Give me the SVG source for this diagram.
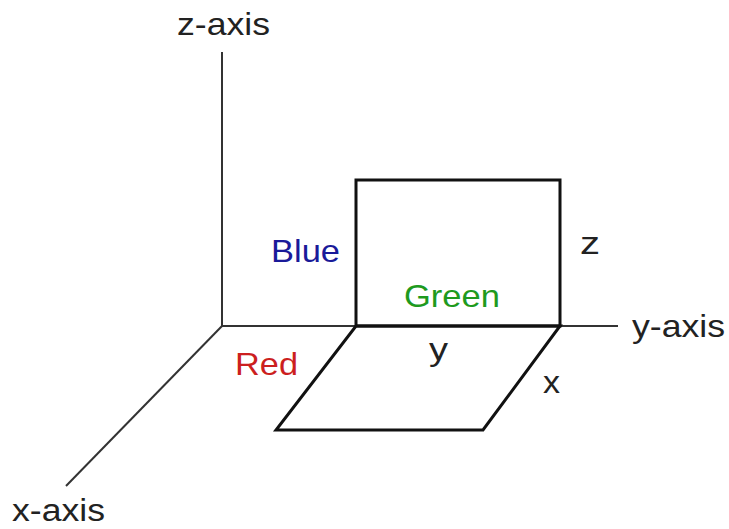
<svg xmlns="http://www.w3.org/2000/svg" width="729" height="529" viewBox="0 0 729 529">
<style>
text{font-family:"Liberation Sans",Arial,sans-serif;font-size:32px;fill:#222}
.axis{stroke:#333;stroke-width:2;fill:none}
.shape{stroke:#111;stroke-width:3;fill:none;stroke-linejoin:miter}
</style>
<rect width="729" height="529" fill="#fff"/>
<g id="connectors">
<line class="axis" x1="222" y1="52" x2="222" y2="326"/>
<line class="axis" x1="222" y1="326" x2="618" y2="326"/>
<line class="axis" x1="222" y1="326" x2="66" y2="486"/>
</g>
<g id="blue-plane">
<polygon class="shape" points="356,180 560,180 560,326 356,326"/>
</g>
<g id="red-plane">
<polygon class="shape" points="356,326 560,326 483,430 276,430"/>
</g>
<g id="labels">
<text x="177" y="35" textLength="93" lengthAdjust="spacingAndGlyphs">z-axis</text>
<text x="632" y="337" textLength="93" lengthAdjust="spacingAndGlyphs">y-axis</text>
<text x="12" y="521" textLength="93" lengthAdjust="spacingAndGlyphs" style="font-size:31px">x-axis</text>
<text x="271" y="262" textLength="69" lengthAdjust="spacingAndGlyphs" style="fill:#1a1a99">Blue</text>
<text x="404" y="307" textLength="96" lengthAdjust="spacingAndGlyphs" style="fill:#1e9a1e">Green</text>
<text x="235" y="375" textLength="63" lengthAdjust="spacingAndGlyphs" style="fill:#cc1f1f">Red</text>
<text x="429" y="360" textLength="19" lengthAdjust="spacingAndGlyphs">y</text>
<text x="543" y="393" textLength="17" lengthAdjust="spacingAndGlyphs">x</text>
<text x="580" y="254" textLength="20" lengthAdjust="spacingAndGlyphs">z</text>
</g>
</svg>
